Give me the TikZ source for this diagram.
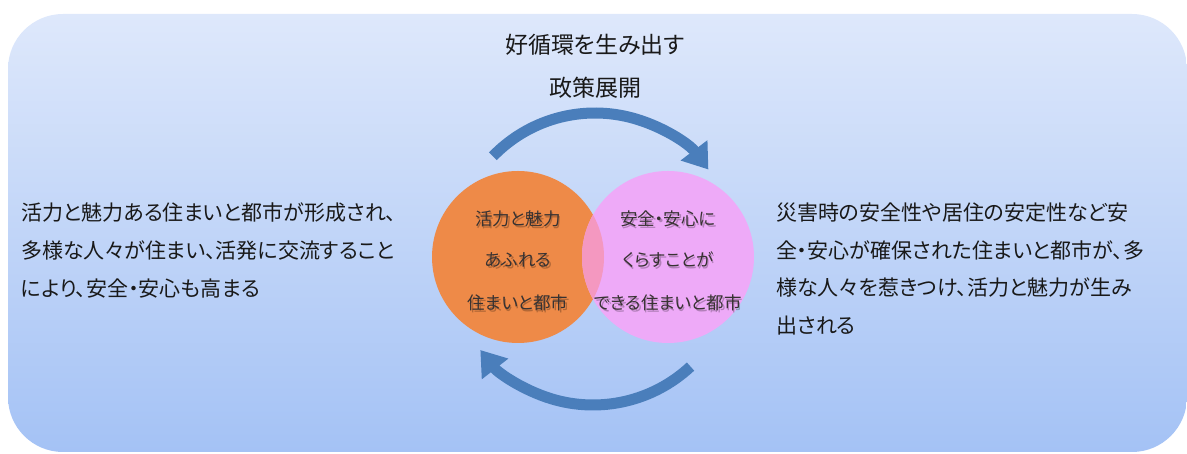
\documentclass[tikz,border=0pt]{standalone}
\usepackage{fontspec}
\setmainfont{Noto Sans CJK JP}[RawFeature=+palt]
\usetikzlibrary{arrows.meta}
\definecolor{bgtop}{RGB}{222,232,251}
\definecolor{bgbot}{RGB}{164,194,245}
\definecolor{orangec}{RGB}{238,138,72}
\definecolor{pinkc}{RGB}{238,170,248}
\definecolor{overlapc}{RGB}{244,152,192}
\definecolor{arrowc}{RGB}{74,126,187}
\definecolor{txt}{RGB}{25,25,25}
\definecolor{ctxt}{RGB}{55,50,50}
\tikzset{
  cyclearrow/.style={draw=arrowc, line width=11pt, -{Triangle[length=24pt,width=32pt]}},
  outertext/.style={text=txt, inner sep=0pt, align=left, anchor=north west},
  circtext/.style={text=ctxt, inner sep=0pt, font=\fontsize{17.5}{20}\selectfont},
  circshadow/.style={text=black, text opacity=0.25, inner sep=0pt, font=\fontsize{17.5}{20}\selectfont},
  toptext/.style={text=txt, inner sep=0pt, font=\fontsize{23}{26}\selectfont}
}
\begin{document}
\begin{tikzpicture}[x=1pt,y=1pt]
\useasboundingbox (0,0) rectangle (1187,454);
\shade[top color=bgtop, bottom color=bgbot, rounded corners=55pt] (8,2) rectangle (1187,440);
% circles
\fill[orangec] (518,197) circle[radius=86pt];
\fill[pinkc] (668,197) circle[radius=86pt];
\begin{scope}
  \clip (518,197) circle[radius=86pt];
  \fill[overlapc] (668,197) circle[radius=86pt];
\end{scope}
% arrows
\coordinate (tc) at (595,199);
\coordinate (bc) at (593,192);
\draw[cyclearrow] (tc) ++(136:142pt) arc[start angle=136, end angle=37, radius=142pt];
\draw[cyclearrow] (bc) ++(-47:143pt) arc[start angle=-47, end angle=-142, radius=143pt];
% top text
\node[toptext] (t1) at (595,409) {好循環を生み出す};
\node[toptext] (t2) at (595,366) {政策展開};
% circle text shadows
\node[circshadow] (o1s) at (519.5,233.5) {活力と魅力};
\node[circshadow] (o2s) at (519.5,192.5) {あふれる};
\node[circshadow] (o3s) at (519.5,149.5) {住まいと都市};
\node[circshadow] (p1s) at (669.5,233.5) {安全・安心に};
\node[circshadow] (p2s) at (669.5,192.5) {くらすことが};
\node[circshadow] (p3s) at (669.5,149.5) {できる住まいと都市};
% circle texts
\node[circtext] (o1) at (518,235) {活力と魅力};
\node[circtext] (o2) at (518,194) {あふれる};
\node[circtext] (o3) at (518,151) {住まいと都市};
\node[circtext] (p1) at (668,235) {安全・安心に};
\node[circtext] (p2) at (668,194) {くらすことが};
\node[circtext] (p3) at (668,151) {できる住まいと都市};
% side texts
\node[outertext, font=\fontsize{21}{38}\selectfont] (lt) at (21,251)
  {活力と魅力ある住まいと都市が形成され、\\多様な人々が住まい、活発に交流すること\\により、安全・安心も高まる};
\node[outertext, font=\fontsize{21}{37.5}\selectfont] (rt) at (776,251)
  {災害時の安全性や居住の安定性など安\\全・安心が確保された住まいと都市が、多\\様な人々を惹きつけ、活力と魅力が生み\\出される};
\end{tikzpicture}
\end{document}
